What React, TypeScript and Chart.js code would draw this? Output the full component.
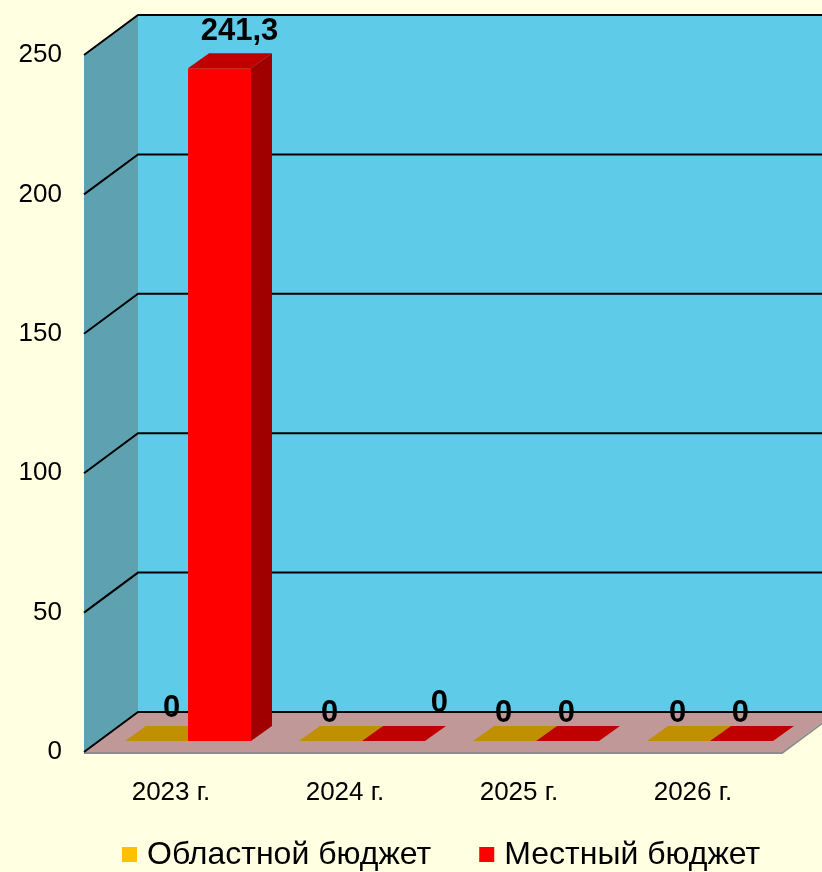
import { useEffect, useRef } from "react";
import { Chart, registerables } from "chart.js";

Chart.register(...registerables);

const categories = ["2023 г.", "2024 г.", "2025 г.", "2026 г."];
const regionalBudget = [0, 0, 0, 0];
const localBudget = [241.3, 0, 0, 0];
const seriesNames = ["Областной бюджет", "Местный бюджет"];
const yMax = 250;
const yStep = 50;

const FONT = "'Liberation Sans', Arial, sans-serif";
const FRONT = ["#ffc000", "#ff0000"];
const TOP = ["#c09000", "#c00000"];
const SIDE = ["#a07800", "#a00000"];

// label nudges (style only): key = "dataset-index"
const LABEL_NUDGE: Record<string, [number, number]> = {
  "0-0": [16, -5],
  "1-1": [47, -10],
};

const threeD = {
  id: "threeD",
  beforeDraw(chart: any) {
    const { ctx, width, height } = chart;
    ctx.save();
    ctx.fillStyle = "#ffffe1";
    ctx.fillRect(0, 0, width, height);
    ctx.restore();
  },
  beforeDatasetsDraw(chart: any) {
    const { ctx, chartArea } = chart;
    const ys = chart.scales.y;
    const DX = 54, DY = -40;
    const left = chartArea.left, right = chartArea.right;
    const y0 = ys.getPixelForValue(0);
    const yt = ys.getPixelForValue(yMax);
    ctx.save();
    // back wall
    ctx.fillStyle = "#5ecbe8";
    ctx.fillRect(left + DX, yt + DY, right - left + 20, y0 - yt);
    // side wall
    ctx.fillStyle = "#5ea2b2";
    ctx.beginPath();
    ctx.moveTo(left, yt);
    ctx.lineTo(left + DX, yt + DY);
    ctx.lineTo(left + DX, y0 + DY);
    ctx.lineTo(left, y0);
    ctx.closePath();
    ctx.fill();
    // floor
    ctx.fillStyle = "#c09898";
    ctx.beginPath();
    ctx.moveTo(left, y0);
    ctx.lineTo(right + 2, y0);
    ctx.lineTo(right + 2 + DX, y0 + DY);
    ctx.lineTo(left + DX, y0 + DY);
    ctx.closePath();
    ctx.fill();
    // floor edge
    ctx.strokeStyle = "#8c8c8c";
    ctx.lineWidth = 2;
    ctx.beginPath();
    ctx.moveTo(left, y0 + 1);
    ctx.lineTo(right + 2, y0 + 1);
    ctx.lineTo(right + 2 + DX, y0 + 1 + DY);
    ctx.stroke();
    // gridlines
    ctx.strokeStyle = "#000";
    ctx.lineWidth = 2;
    ys.ticks.forEach((t: any) => {
      const y = ys.getPixelForValue(t.value);
      ctx.beginPath();
      ctx.moveTo(left, y);
      ctx.lineTo(left + DX, y + DY);
      ctx.lineTo(right + DX + 20, y + DY);
      ctx.stroke();
    });
    ctx.restore();
  },
  beforeDatasetDraw() {
    return false;
  },
  afterDatasetsDraw(chart: any) {
    const { ctx } = chart;
    const OX = 17, OY = -11, BDX = 21, BDY = -15;
    const labels: any[] = [];
    ctx.save();
    categories.forEach((_, j) => {
      chart.data.datasets.forEach((ds: any, i: number) => {
        const el = chart.getDatasetMeta(i).data[j];
        if (!el) return;
        const w = el.width;
        const fl = el.x - w / 2 + OX;
        const fr = el.x + w / 2 + OX;
        const ft = el.y + OY;
        const fb = el.base + OY;
        if (fb - ft > 0.5) {
          ctx.fillStyle = FRONT[i];
          ctx.fillRect(fl, ft, fr - fl, fb - ft);
          ctx.fillStyle = SIDE[i];
          ctx.beginPath();
          ctx.moveTo(fr, ft);
          ctx.lineTo(fr + BDX, ft + BDY);
          ctx.lineTo(fr + BDX, fb + BDY);
          ctx.lineTo(fr, fb);
          ctx.closePath();
          ctx.fill();
        }
        ctx.fillStyle = TOP[i];
        ctx.beginPath();
        ctx.moveTo(fl, ft);
        ctx.lineTo(fl + BDX, ft + BDY);
        ctx.lineTo(fr + BDX, ft + BDY);
        ctx.lineTo(fr, ft);
        ctx.closePath();
        ctx.fill();
        const v = ds.data[j];
        const cx = (fl + fr) / 2;
        const nudge = LABEL_NUDGE[`${i}-${j}`] || [0, 0];
        let lx: number, ly: number;
        if (v > 0) {
          lx = cx + 20;
          ly = ft - 37;
        } else {
          lx = cx - 1;
          ly = ft - 28;
        }
        labels.push({ text: String(v).replace(".", ","), x: lx + nudge[0], y: ly + nudge[1] });
      });
    });
    ctx.fillStyle = "#000";
    ctx.font = `bold 31px ${FONT}`;
    ctx.textAlign = "center";
    ctx.textBaseline = "middle";
    labels.forEach((l) => ctx.fillText(l.text, l.x, l.y));
    ctx.restore();
  },
  afterDraw(chart: any) {
    const { ctx } = chart;
    ctx.save();
    ctx.font = `32px ${FONT}`;
    ctx.textBaseline = "middle";
    ctx.textAlign = "left";
    let x = 122;
    const y = 855;
    chart.data.datasets.forEach((ds: any, i: number) => {
      ctx.fillStyle = FRONT[i];
      ctx.fillRect(x, y - 8, 15, 15);
      ctx.fillStyle = "#000";
      ctx.fillText(ds.label, x + 25, y);
      x += 25 + ctx.measureText(ds.label).width + 48;
    });
    ctx.restore();
  },
};

export default function App() {
  const ref = useRef<HTMLCanvasElement | null>(null);
  useEffect(() => {
    if (!ref.current) return;
    const chart = new Chart(ref.current, {
      type: "bar",
      data: {
        labels: categories,
        datasets: [
          { label: seriesNames[0], data: regionalBudget, backgroundColor: FRONT[0] },
          { label: seriesNames[1], data: localBudget, backgroundColor: FRONT[1] },
        ],
      },
      options: {
        animation: false,
        responsive: false,
        devicePixelRatio: 1,
        layout: { padding: { top: 55, right: 42, bottom: 60, left: 0 } },
        datasets: { bar: { barPercentage: 1, categoryPercentage: 0.724 } },
        plugins: { legend: { display: false }, tooltip: { enabled: false } },
        scales: {
          x: {
            grid: { display: false },
            border: { display: false },
            ticks: { color: "#000", font: { family: FONT, size: 26 }, padding: 17 },
            afterFit: (s: any) => { s.height = 60; },
          },
          y: {
            min: 0,
            max: yMax,
            grid: { display: false },
            border: { display: false },
            ticks: { stepSize: yStep, color: "#000", font: { family: FONT, size: 26 }, padding: 14 },
            afterFit: (s: any) => { s.width = 84; },
          },
        },
      },
      plugins: [threeD],
    });
    return () => chart.destroy();
  }, []);
  return (
    <div style={{ position: "absolute", left: 0, top: 0, width: 822, height: 872 }}>
      <canvas ref={ref} width={822} height={872} />
    </div>
  );
}
